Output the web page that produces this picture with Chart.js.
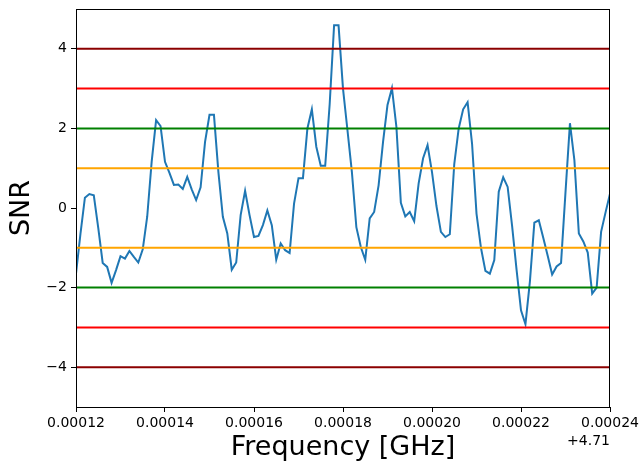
<!DOCTYPE html>
<html><head><meta charset="utf-8">
<script src="https://cdn.jsdelivr.net/npm/chart.js@4"></script>
<style>html,body{margin:0;padding:0;background:#fff;}canvas{display:block;}</style>
</head><body>
<canvas id="c" width="642" height="461"></canvas>
<script>
// frequency offsets from 4.71 GHz, in kHz
const freqOffsetKHz = [120,121,122,123,124,125,126,127,128,129,130,131,132,133,134,135,136,137,138,139,
140,141,142,143,144,145,146,147,148,149,150,151,152,153,154,155,156,157,158,159,
160,161,162,163,164,165,166,167,168,169,170,171,172,173,174,175,176,177,178,179,
180,181,182,183,184,185,186,187,188,189,190,191,192,193,194,195,196,197,198,199,
200,201,202,203,204,205,206,207,208,209,210,211,212,213,214,215,216,217,218,219,
220,221,222,223,224,225,226,227,228,229,230,231,232,233,234,235,236,237,238,239,240];
const snr = [-1.65,-0.65,0.26,0.35,0.32,-0.5,-1.38,-1.48,-1.88,-1.56,
-1.21,-1.27,-1.08,-1.23,-1.37,-1.04,-0.22,1.16,2.21,2.06,
1.16,0.88,0.58,0.59,0.48,0.78,0.47,0.20,0.52,1.66,
2.34,2.34,0.9,-0.22,-0.64,-1.55,-1.37,-0.18,0.43,-0.18,
-0.73,-0.70,-0.43,-0.06,-0.43,-1.30,-0.89,-1.06,-1.13,0.11,
0.75,0.75,2.0,2.48,1.54,1.06,1.06,2.6,4.59,4.59,
3.0,1.96,0.9,-0.48,-0.98,-1.30,-0.26,-0.10,0.57,1.66,
2.59,3.01,2.04,0.13,-0.21,-0.10,-0.33,0.62,1.25,1.58,
0.9,0.05,-0.6,-0.73,-0.66,1.1,2.0,2.48,2.66,1.62,
-0.14,-1.0,-1.58,-1.65,-1.31,0.41,0.77,0.53,-0.45,-1.55,
-2.57,-2.92,-1.85,-0.37,-0.31,-0.75,-1.2,-1.67,-1.47,-1.38,
0.4,2.13,1.20,-0.64,-0.84,-1.12,-2.15,-2.0,-0.6,-0.11,0.36];
const xTicks = [0.00012,0.00014,0.00016,0.00018,0.00020,0.00022,0.00024];
const yTicks = [-4,-2,0,2,4];
const thresholdLevels = [1,-1,2,-2,3,-3,4,-4];
const thresholdColors = ['orange','orange','green','green','red','red','darkred','darkred'];
const offsetLabel = '+4.71';
const xTitle = 'Frequency [GHz]';
const yTitle = 'SNR';

const X_MIN = xTicks[0], X_MAX = xTicks[xTicks.length-1];
const FONT = '"DejaVu Sans", sans-serif';

const datasets = [{
  label: 'SNR',
  data: freqOffsetKHz.map((f,i)=>({x: f*1e-6, y: snr[i]})),
  borderColor: '#1f77b4', borderWidth: 2, pointRadius: 0, tension: 0, fill: false, order: 10
}];
thresholdLevels.forEach((lv,i)=>{
  datasets.push({
    label: 'thr'+lv,
    data: [{x: X_MIN, y: lv},{x: X_MAX, y: lv}],
    borderColor: thresholdColors[i], borderWidth: 2, pointRadius: 0, fill: false, order: 1
  });
});

const framePlugin = {
  id: 'frame',
  afterDraw(chart){
    const {ctx, chartArea: a} = chart;
    ctx.save();
    ctx.strokeStyle = '#000'; ctx.lineWidth = 1;
    ctx.strokeRect(a.left+0.5, a.top+0.5, a.right-a.left-1, a.bottom-a.top);
    ctx.fillStyle = '#000';
    ctx.font = '14px ' + FONT;
    ctx.textAlign = 'right'; ctx.textBaseline = 'middle';
    ctx.fillText(offsetLabel, a.right, 441);
    ctx.restore();
  }
};

new Chart(document.getElementById('c'), {
  type: 'line',
  data: { datasets },
  options: {
    responsive: false, animation: false, devicePixelRatio: 1,
    layout: { padding: { top: 9, right: 32, left: 0, bottom: 0 } },
    plugins: { legend: { display: false }, tooltip: { enabled: false } },
    scales: {
      x: {
        type: 'linear', min: X_MIN, max: X_MAX,
        afterBuildTicks(s){ s.ticks = xTicks.map(v=>({value:v})); },
        afterFit(s){ s.height = 54; s.paddingLeft = 0; s.paddingRight = 0; },
        grid: { display: true, drawOnChartArea: false, drawTicks: true, tickLength: 5, color: '#000', lineWidth: 1 },
        border: { display: false },
        ticks: { color: '#000', padding: 3, maxRotation: 0, autoSkip: false,
          font: { family: FONT, size: 14 }, callback: v => Number(v).toFixed(5) },
        title: { display: true, text: xTitle, color: '#000', font: { family: FONT, size: 27, lineHeight: 1.0 }, padding: { top: 0, bottom: 0 } }
      },
      y: {
        type: 'linear', min: -5, max: 5,
        afterBuildTicks(s){ s.ticks = yTicks.map(v=>({value:v})); },
        afterFit(s){ s.width = 76; s.paddingTop = 0; s.paddingBottom = 0; },
        grid: { display: true, drawOnChartArea: false, drawTicks: true, tickLength: 5, color: '#000', lineWidth: 1 },
        border: { display: false },
        ticks: { color: '#000', padding: 4, autoSkip: false,
          font: { family: FONT, size: 14 }, callback: v => v < 0 ? '\u2212' + Math.abs(v) : String(v) },
        title: { display: true, text: yTitle, color: '#000', font: { family: FONT, size: 27, lineHeight: 1.2 }, padding: { top: 6, bottom: 0 } }
      }
    }
  },
  plugins: [framePlugin]
});
</script>
</body></html>
